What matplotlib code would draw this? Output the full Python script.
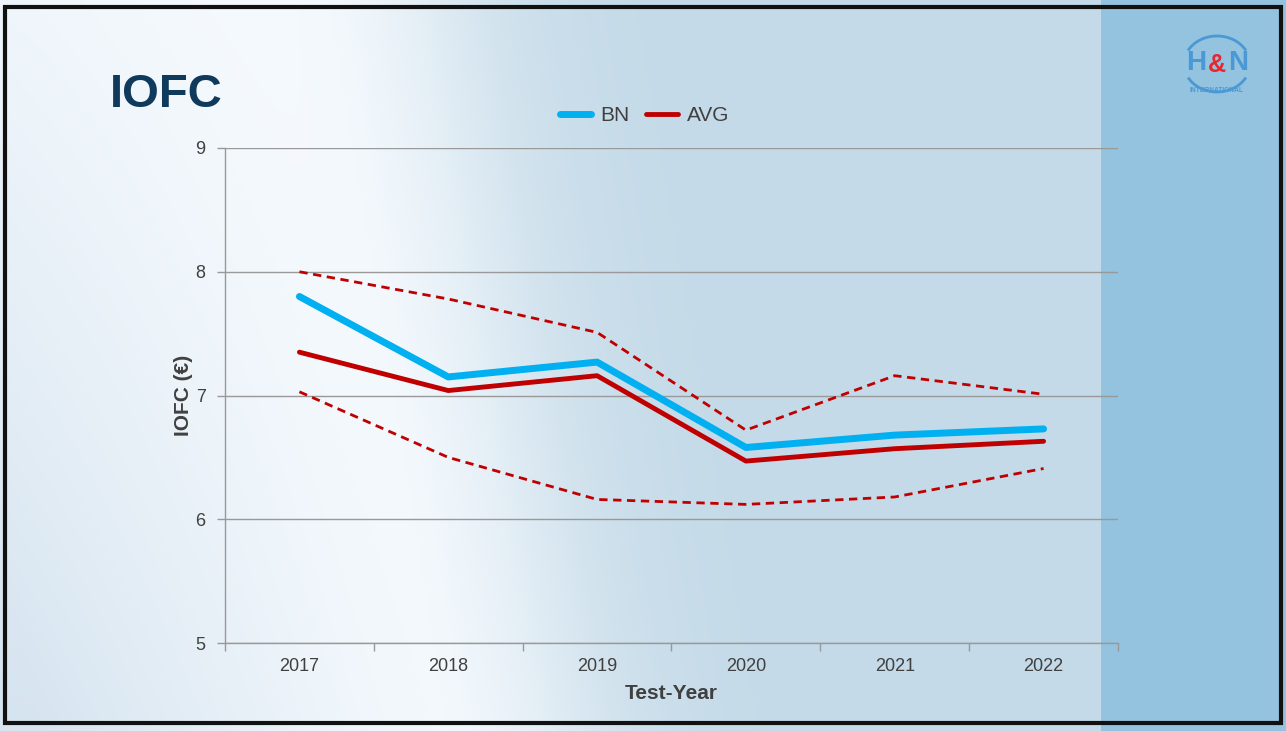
import numpy as np
import matplotlib
matplotlib.use("Agg")
import matplotlib.pyplot as plt
from matplotlib.patches import Rectangle, Arc

plt.rcParams['font.family'] = ['Liberation Sans', 'DejaVu Sans']

# Daten
years = ['2017', '2018', '2019', '2020', '2021', '2022']
bn = [7.80, 7.15, 7.27, 6.58, 6.68, 6.73]
avg = [7.35, 7.04, 7.16, 6.47, 6.57, 6.63]
avg_upper = [8.00, 7.78, 7.51, 6.72, 7.16, 7.01]
avg_lower = [7.03, 6.50, 6.16, 6.12, 6.18, 6.41]

W, H = 1286, 731
fig = plt.figure(figsize=(W / 100, H / 100), dpi=100)

# Hintergrund der Folie
bg_ax = fig.add_axes([0, 0, 1, 1])
bg_ax.set_xlim(0, W)
bg_ax.set_ylim(H, 0)
bg_ax.axis('off')

yy, xx = np.mgrid[0:H, 0:W].astype(float)
base = np.array([0.77, 0.855, 0.91])
white = np.array([0.975, 0.988, 1.0])
pale = np.array([0.84, 0.895, 0.94])
edge = 440 + 0.17 * yy
t = 1 / (1 + np.exp(-(edge - xx) / 55))
d = np.clip((edge - 110 - xx) / 420, 0, 1) * (0.35 + 0.65 * yy / H)
inside = white * (1 - d[..., None]) + pale * d[..., None]
img = base * (1 - t[..., None]) + inside * t[..., None]
img[:, 1101:] = np.array([0.58, 0.765, 0.875])
bg_ax.imshow(img, extent=(0, W, H, 0), aspect='auto', zorder=0)
bg_ax.add_patch(Rectangle((5, 7), 1276, 716, fill=False, lw=3, ec='#111111', zorder=5))

# Titel
fig.text(110 / W, 1 - 107 / H, 'IOFC', fontsize=34, fontweight='bold', color='#0f3a5c')

# Logo
bg_ax.add_patch(Arc((1217, 64), 66, 56, theta1=25, theta2=155, lw=2, color='#4a98d6'))
bg_ax.add_patch(Arc((1217, 64), 66, 56, theta1=205, theta2=335, lw=2, color='#4a98d6'))
bg_ax.text(1196, 63, 'H', fontsize=20, fontweight='bold', color='#4a98d6', ha='center', va='center')
bg_ax.text(1217, 65, '&', fontsize=18, fontweight='bold', color='#e8262e', ha='center', va='center')
bg_ax.text(1238, 63, 'N', fontsize=20, fontweight='bold', color='#4a98d6', ha='center', va='center')
bg_ax.text(1217, 91, 'INTERNATIONAL', fontsize=4.8, fontweight='bold', color='#4a98d6', ha='center', va='center')

# Diagramm
ax = fig.add_axes([225 / W, 1 - 643 / H, 893 / W, 495 / H])
ax.patch.set_alpha(0)
x = np.arange(len(years))

ax.plot(x, avg_upper, color='#c00000', lw=2, ls=(0, (3, 2)), zorder=3)
ax.plot(x, avg_lower, color='#c00000', lw=2, ls=(0, (3, 2)), zorder=3)
ax.plot(x, bn, color='#00b0f0', lw=5, solid_capstyle='round', solid_joinstyle='round', label='BN', zorder=4)
ax.plot(x, avg, color='#c00000', lw=3.5, solid_capstyle='round', solid_joinstyle='round', label='AVG', zorder=4)

ax.set_xlim(-0.5, len(years) - 0.5)
ax.set_ylim(5, 9)
ax.set_yticks([5, 6, 7, 8, 9])
ax.grid(axis='y', color='#999999', lw=1)
ax.set_axisbelow(True)

ax.set_xticks(x)
ax.set_xticklabels(years)
ax.set_xticks(np.arange(-0.5, len(years)), minor=True)
ax.tick_params(axis='x', which='major', length=0, pad=11, labelsize=13, labelcolor='#404040')
ax.tick_params(axis='x', which='minor', length=6, width=1, color='#999999', direction='out')
ax.tick_params(axis='y', length=6, width=1, color='#999999', pad=8, labelsize=13, labelcolor='#404040')

for s in ['top', 'right']:
    ax.spines[s].set_visible(False)
for s in ['left', 'bottom']:
    ax.spines[s].set_color('#999999')
    ax.spines[s].set_linewidth(1)

ax.set_xlabel('Test-Year', fontsize=15, fontweight='bold', color='#404040', labelpad=6)
ax.set_ylabel('IOFC (€)', fontsize=15, fontweight='bold', color='#404040', labelpad=2)

ax.legend(loc='center', bbox_to_anchor=(0.47, 1.065), ncol=2, frameon=False,
          fontsize=15, labelcolor='#404040', handlelength=1.5, handletextpad=0.45,
          columnspacing=0.8)

fig.savefig('out.png', dpi=100)
